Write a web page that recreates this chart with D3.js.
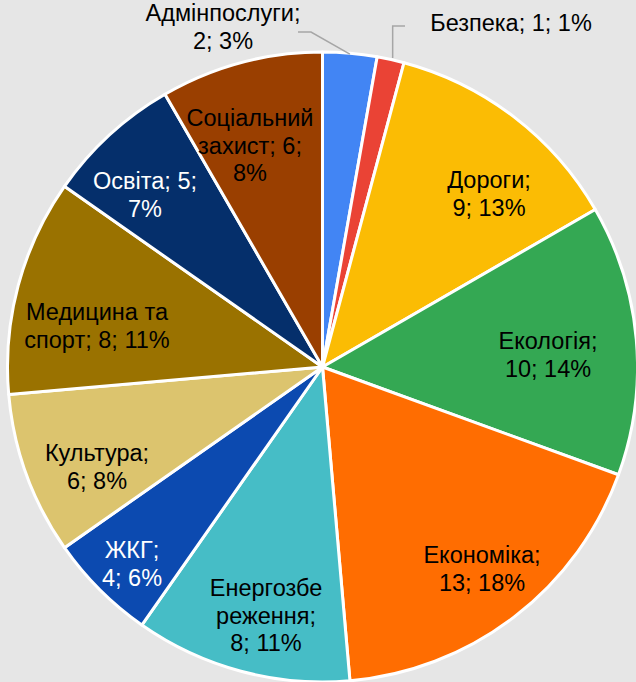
<!DOCTYPE html>
<html><head><meta charset="utf-8">
<script src="https://cdn.jsdelivr.net/npm/d3@7"></script>
<style>html,body{margin:0;padding:0;background:#E6E6E6;}svg{display:block;}</style>
</head><body>
<script>
const categories = ["Адмінпослуги","Безпека","Дороги","Екологія","Економіка","Енергозбереження","ЖКГ","Культура","Медицина та спорт","Освіта","Соціальний захист"];
const values = [2,1,9,10,13,8,4,6,8,5,6];
const colors = ["#4285F4","#EA4335","#FBBC04","#34A853","#FF6D01","#46BDC6","#0C4AB0","#DCC46E","#9A7200","#052F6B","#9A3F00"];
const labelLines = [
  ["Адмінпослуги;","2; 3%"],
  ["Безпека; 1; 1%"],
  ["Дороги;","9; 13%"],
  ["Екологія;","10; 14%"],
  ["Економіка;","13; 18%"],
  ["Енергозбе","реження;","8; 11%"],
  ["ЖКГ;","4; 6%"],
  ["Культура;","6; 8%"],
  ["Медицина та","спорт; 8; 11%"],
  ["Освіта; 5;","7%"],
  ["Соціальний","захист; 6;","8%"]
];
const labelColor = ["#000","#000","#000","#000","#000","#000","#fff","#000","#000","#fff","#000"];
// label anchor: x centre, first baseline
const labelPos = [[223,21],[511,31],[489,188],[548,349],[482,563],[266,596],[132,558],[97,461],[97,320],[145,189],[250,126]];

const W=636,H=682, cx=322.5, cy=367, R=315;
const svg=d3.select("body").append("svg").attr("width",W).attr("height",H);
svg.append("rect").attr("width",W).attr("height",H).attr("fill","#E6E6E6");
const pie=d3.pie().sort(null).value(d=>d)(values);
const arc=d3.arc().innerRadius(0).outerRadius(R);
const g=svg.append("g").attr("transform",`translate(${cx},${cy})`);
g.selectAll("path").data(pie).join("path").attr("d",arc)
  .attr("fill",(d,i)=>colors[i]).attr("stroke","#fff").attr("stroke-width",3).attr("stroke-linejoin","round");

// leader lines
function leader(pts){
  svg.append("polyline").attr("points",pts.map(p=>p.join(",")).join(" "))
    .attr("fill","none").attr("stroke","#A6A6A6").attr("stroke-width",1.5);
}
{
  const a=(pie[0].startAngle+pie[0].endAngle)/2;
  leader([[298,32],[311,32],[cx+(R-1)*Math.sin(a),cy-(R-1)*Math.cos(a)]]);
  const b=(pie[1].startAngle+pie[1].endAngle)/2;
  const bx=cx+(R)*Math.sin(b)+2;
  leader([[405,26],[bx,26],[bx,cy-Math.sqrt(R*R-(bx-cx)*(bx-cx))-2]]);
}

const t=svg.append("g").attr("font-family","'Liberation Sans', Arial, sans-serif").attr("font-size",23.5);
labelLines.forEach((lines,i)=>{
  const txt=t.append("text").attr("text-anchor","middle").attr("fill",labelColor[i]);
  lines.forEach((s,k)=>{
    txt.append("tspan").attr("x",labelPos[i][0]).attr("y",labelPos[i][1]+k*27.5).text(s);
  });
});
</script>
</body></html>
